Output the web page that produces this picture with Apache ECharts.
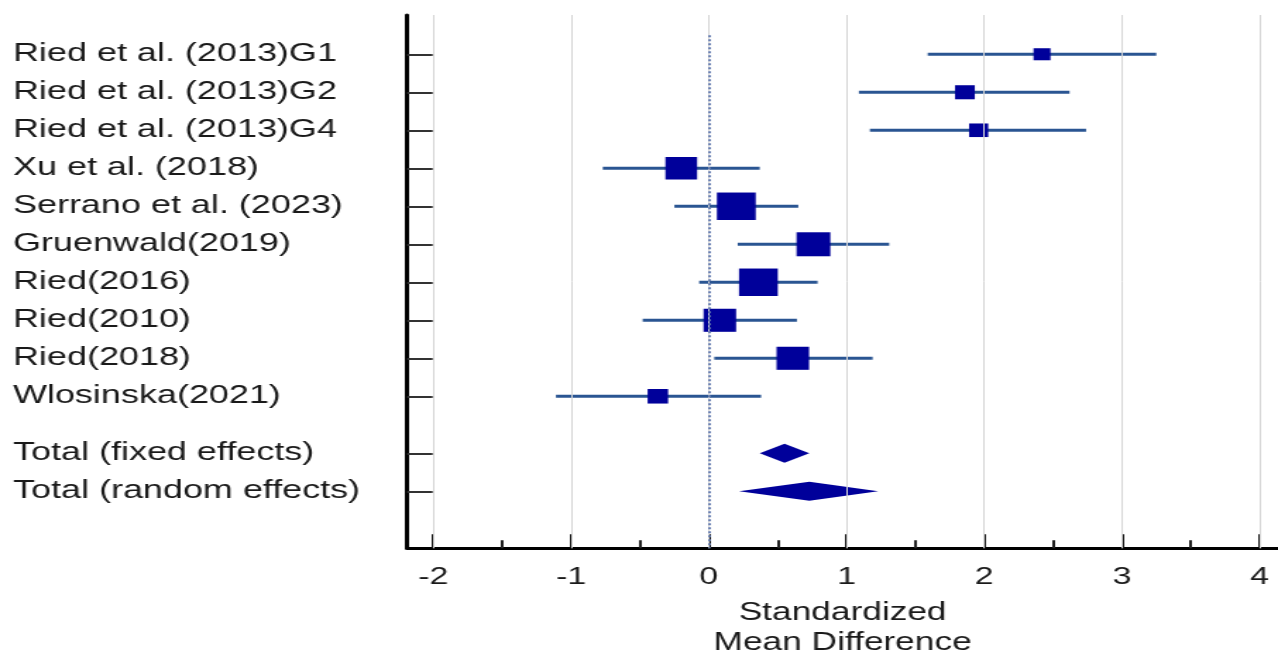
<!DOCTYPE html>
<html>
<head>
<meta charset="utf-8">
<script src="https://cdn.jsdelivr.net/npm/echarts@6/dist/echarts.min.js"></script>
<style>
  html, body { margin: 0; padding: 0; background: #ffffff; overflow: hidden; }
  #chart { width: 906px; height: 656px; transform: scaleX(1.4106); transform-origin: 0 0; }
</style>
</head>
<body>
<div id="chart"></div>
<script>
// ---- data ----
const studies = [
  'Ried et al. (2013)G1', 'Ried et al. (2013)G2', 'Ried et al. (2013)G4',
  'Xu et al. (2018)', 'Serrano et al. (2023)', 'Gruenwald(2019)',
  'Ried(2016)', 'Ried(2010)', 'Ried(2018)', 'Wlosinska(2021)'
];
const smd    = [2.42, 1.86, 1.96, -0.20, 0.20, 0.76, 0.36, 0.08, 0.61, -0.37];
const ciLow  = [1.59, 1.09, 1.17, -0.77, -0.25, 0.21, -0.07, -0.48, 0.04, -1.11];
const ciHigh = [3.25, 2.62, 2.74, 0.37, 0.65, 1.31, 0.79, 0.64, 1.19, 0.38];
const weights = [3.3, 4.5, 4.2, 11.5, 17.2, 13.1, 17.2, 12.1, 12.1, 4.8];

const totals    = ['Total (fixed effects)', 'Total (random effects)'];
const totalSmd  = [0.55, 0.73];
const totalLow  = [0.37, 0.22];
const totalHigh = [0.73, 1.23];

const xTickLabels = [-2, -1, 0, 1, 2, 3, 4];
const xMinorTicks = [-1.5, -0.5, 0.5, 1.5, 2.5, 3.5];
const xAxisName = 'Standardized\nMean Difference';

// ---- derived rows ----
const studyRows = studies.map((s, i) => i);
const totalRows = totals.map((s, j) => studies.length + 0.5 + j);
const allRows = studyRows.concat(totalRows);
const allNames = studies.concat(totals);
const nameOf = v => {
  const k = allRows.findIndex(r => Math.abs(r - v) < 1e-6);
  return k >= 0 ? allNames[k] : '';
};

const X_MIN = -2.19, X_MAX = 4.134;
const Y_MIN = -1.033, Y_MAX = 13;

const ciData = studies.map((s, i) => [ciLow[i], studyRows[i], ciHigh[i]]);
const sqData = studies.map((s, i) => ({ value: [smd[i], studyRows[i]], symbolSize: 6.63 * Math.sqrt(weights[i]) }));
const diaData = totals.map((s, j) => [totalSmd[j], totalRows[j], totalLow[j], totalHigh[j]]);

const chart = echarts.init(document.getElementById('chart'));
const fontFamily = '"Liberation Sans", Arial, sans-serif';

chart.setOption({
  animation: false,
  backgroundColor: '#ffffff',
  grid: { left: 288.7, right: 0, top: 15, bottom: 107.7, containLabel: false, outerBoundsMode: 'none' },
  xAxis: [
    {
      type: 'value', min: X_MIN, max: X_MAX, position: 'bottom',
      axisLine: { show: true, onZero: false, lineStyle: { color: '#000', width: 3 } },
      axisTick: { show: true, inside: true, length: 14, customValues: xTickLabels, lineStyle: { color: '#111', width: 2 } },
      axisLabel: { show: true, customValues: xTickLabels, margin: 17, fontSize: 24, color: '#1a1a1a', fontFamily: fontFamily },
      splitLine: { show: false },
      name: xAxisName, nameLocation: 'middle', nameGap: 50,
      nameTextStyle: { fontSize: 25, lineHeight: 30, color: '#1a1a1a', fontFamily: fontFamily, align: 'center' }
    },
    {
      type: 'value', min: X_MIN, max: X_MAX, position: 'bottom',
      axisLine: { show: false, onZero: false },
      axisTick: { show: true, inside: true, length: 8, customValues: xMinorTicks, lineStyle: { color: '#222', width: 2 } },
      axisLabel: { show: false },
      splitLine: { show: false }
    }
  ],
  yAxis: {
    type: 'value', min: Y_MIN, max: Y_MAX, inverse: true,
    axisLine: { show: true, onZero: false, lineStyle: { color: '#000', width: 3 } },
    axisTick: { show: true, inside: true, length: 18, customValues: allRows, lineStyle: { color: '#333', width: 2 } },
    axisLabel: {
      show: true, customValues: allRows, align: 'left', margin: 279.5,
      fontSize: 25.5, color: '#1a1a1a', fontFamily: fontFamily, padding: [3, 0, 0, 0],
      formatter: v => nameOf(v)
    },
    splitLine: { show: false }
  },
  series: [
    {
      type: 'custom', name: 'grid', data: [], z: 1,
      renderItem: () => null,
      markLine: {
        silent: true, symbol: 'none', label: { show: false },
        lineStyle: { color: '#d6d6d6', width: 1, type: 'solid' },
        data: xTickLabels.map(v => ({ xAxis: v }))
      }
    },
    {
      type: 'custom', name: 'zero', data: [], z: 2,
      renderItem: () => null,
      markLine: {
        silent: true, symbol: 'none', label: { show: false },
        lineStyle: { color: '#5f77ad', width: 1.8, type: [2, 2] },
        data: [[{ coord: [0, -0.5] }, { coord: [0, Y_MAX] }]]
      }
    },
    {
      type: 'custom', name: 'CI', z: 3,
      data: ciData,
      encode: { x: [0, 2], y: 1 },
      renderItem: (params, api) => {
        const y = api.value(1);
        const a = api.coord([api.value(0), y]);
        const b = api.coord([api.value(2), y]);
        return {
          type: 'line',
          shape: { x1: a[0], y1: a[1], x2: b[0], y2: b[1] },
          style: { stroke: '#2a5592', lineWidth: 3 }
        };
      }
    },
    {
      type: 'scatter', name: 'SMD', z: 4,
      symbol: 'rect',
      itemStyle: { color: '#00009a', opacity: 1 },
      data: sqData
    },
    {
      type: 'custom', name: 'Totals', z: 4,
      data: diaData,
      encode: { x: [0, 2, 3], y: 1 },
      renderItem: (params, api) => {
        const y = api.value(1);
        const c = api.coord([api.value(0), y]);
        const lo = api.coord([api.value(2), y]);
        const hi = api.coord([api.value(3), y]);
        const h = 9.5;
        return {
          type: 'polygon',
          shape: { points: [[lo[0], lo[1]], [c[0], c[1] - h], [hi[0], hi[1]], [c[0], c[1] + h]] },
          style: { fill: '#00009a' }
        };
      }
    }
  ]
});
</script>
</body>
</html>
